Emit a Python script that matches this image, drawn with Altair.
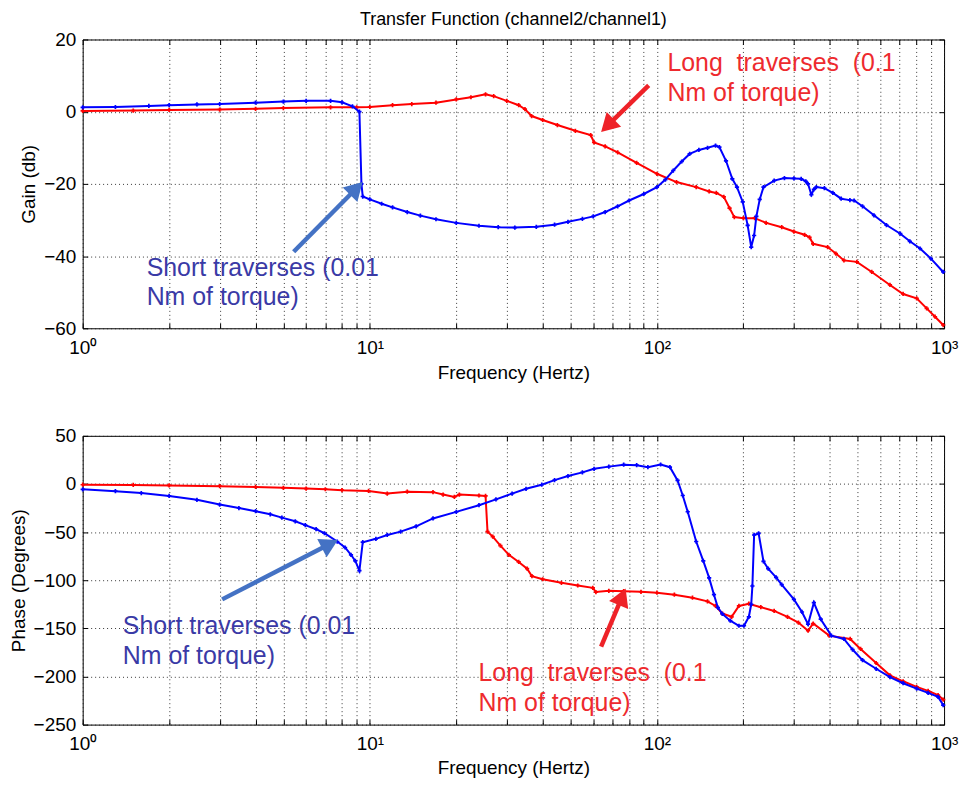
import math
import altair as alt
import pandas as pd

FONT = "Liberation Sans"

# ---------------- data ----------------
# Gain (dB), short traverses (0.01 Nm) - blue
gain_short_f = [1.0, 1.3, 1.7, 2.0, 2.5, 3.0, 4.0, 5.0, 6.0, 7.3, 8.0, 8.7, 9.2, 9.35, 9.45,
                10, 11, 12, 13.5, 15, 17, 20, 24, 28, 32, 38, 44, 49, 55, 60, 66, 73, 80, 90,
                100, 107, 114, 122, 130, 140, 150, 160, 165, 174, 183, 190, 199, 207, 213, 218,
                222, 228, 235, 256, 278, 300, 318, 330, 336, 345, 352, 359, 383, 410, 438, 470,
                486, 520, 570, 630, 704, 760, 825, 900, 993]
gain_short_db = [1.2, 1.3, 1.6, 1.8, 2.0, 2.1, 2.5, 2.8, 3.0, 3.0, 2.6, 1.5, 0.0, -20.0, -23.5,
                 -24.3, -25.5, -26.5, -27.8, -28.8, -29.8, -30.8, -31.6, -32.0, -32.1, -31.9, -31.3,
                 -30.5, -29.7, -29.0, -27.8, -26.2, -24.6, -22.8, -20.9, -18.8, -16.3, -13.8, -11.7,
                 -10.6, -10.0, -9.4, -9.8, -13.6, -18.6, -20.9, -25.0, -31.5, -37.5, -34.3, -29.0,
                 -24.3, -20.9, -19.1, -18.4, -18.5, -18.6, -19.3, -20.0, -23.0, -21.5, -20.9, -21.2,
                 -22.5, -24.1, -24.5, -24.6, -26.2, -28.7, -31.4, -33.8, -35.9, -37.9, -40.7, -44.4]

# Gain (dB), long traverses (0.1 Nm) - red
gain_long_f = [1.0, 1.5, 2.0, 3.0, 4.0, 5.0, 7.3, 9.0, 10, 12, 14, 17, 20, 22.5, 25.3, 27, 30,
               33, 34.7, 36.6, 40, 45, 52, 58.8, 60.4, 66, 73, 85, 100, 117, 137, 152, 161, 171,
               179, 186, 200, 219, 240, 272, 300, 327, 340, 350, 393, 420, 448, 497, 560, 648,
               720, 803, 870, 930, 993]
gain_long_db = [0.2, 0.3, 0.5, 0.6, 0.8, 1.0, 1.2, 1.2, 1.3, 1.8, 2.1, 2.5, 3.4, 4.0, 4.8, 4.3,
                3.0, 1.8, 0.7, -1.2, -2.3, -3.7, -5.3, -6.5, -8.5, -9.6, -11.3, -14.2, -17.2,
                -19.5, -20.9, -22.1, -22.5, -23.6, -26.7, -29.2, -29.5, -29.5, -30.8, -32.0,
                -33.2, -34.1, -34.8, -36.6, -37.5, -39.3, -41.2, -41.6, -44.4, -48.0, -50.5,
                -51.7, -54.5, -56.8, -59.1]

# Phase (degrees), short traverses - blue
phase_short_f = [1.0, 1.3, 1.6, 2.0, 2.5, 3.0, 3.5, 4.0, 4.5, 4.94, 5.5, 5.96, 6.5, 6.95, 7.7,
                 8.2, 8.6, 8.9, 9.2, 9.45, 10.5, 11.5, 12.8, 14.5, 16.6, 20, 24, 27.5, 31.3, 35,
                 39.7, 44, 49, 55, 60.4, 68, 76.6, 85, 93, 103, 111, 118, 123, 128, 137, 145,
                 152, 158, 163, 169, 180, 193, 201, 209, 213, 215, 218, 226, 235, 244, 260, 272,
                 300, 320, 336, 352, 372, 405, 448, 480, 520, 580, 648, 720, 803, 880, 953, 993]
phase_short_deg = [-5.6, -7.5, -9.5, -12.4, -16.5, -21.4, -25.0, -28.3, -31.5, -35.0, -38.8,
                   -42.7, -47.0, -51.2, -59.8, -66.0, -73.6, -80.0, -90.0, -60.5, -57.0, -53.0,
                   -49.5, -44.0, -35.8, -29.0, -22.1, -16.0, -10.0, -5.0, -0.8, 4.0, 8.2, 12.0,
                   15.7, 18.0, 20.0, 19.5, 17.4, 20.2, 17.4, 3.7, -12.0, -28.9, -59.8, -80.0,
                   -97.6, -115.0, -128.5, -135.0, -142.0, -147.3, -147.3, -138.0, -125.0,
                   -106.0, -53.0, -51.4, -80.4, -88.0, -97.0, -104.5, -119.9, -133.0, -145.7,
                   -123.3, -140.5, -157.6, -161.0, -172.0, -183.0, -192.0, -200.6, -207.0,
                   -212.6, -217.0, -221.2, -229.7]

# Phase (degrees), long traverses - red
phase_long_f = [1.0, 1.5, 2.0, 3.0, 4.0, 5.0, 6.0, 7.0, 8.0, 9.9, 11.5, 13.5, 16.6, 18, 19.7,
                20.5, 24, 25.3, 25.7, 26.8, 28.5, 30.5, 33, 35.3, 36.7, 40, 46.5, 53, 59.8, 61.3,
                68, 76.6, 88, 100, 115, 133, 150, 160, 169, 182, 193, 209, 230, 256, 285, 311,
                336, 350, 398, 471, 512, 580, 648, 720, 803, 880, 953, 993]
phase_long_deg = [-0.8, -1.0, -1.5, -2.3, -3.1, -4.0, -4.8, -5.5, -6.5, -7.3, -10.0, -8.0,
                  -8.5, -11.0, -13.5, -11.0, -12.0, -12.4, -49.5, -54.7, -64.0, -73.6, -81.0,
                  -88.0, -95.8, -99.0, -102.7, -105.5, -107.9, -112.3, -111.0, -111.4, -112.0,
                  -113.0, -115.0, -118.2, -122.0, -126.7, -134.6, -138.0, -126.7, -124.4,
                  -128.0, -131.9, -138.0, -144.0, -152.5, -145.0, -157.6, -161.0, -171.4,
                  -186.0, -198.8, -205.0, -210.8, -215.0, -219.4, -224.0]

x_tick_values = [1, 2, 3, 4, 5, 6, 7, 8, 9, 10, 20, 30, 40, 50, 60, 70, 80, 90,
                 100, 200, 300, 400, 500, 600, 700, 800, 900, 1000]
gain_ticks = [-60, -40, -20, 0, 20]
phase_ticks = [-250, -200, -150, -100, -50, 0, 50]
gain_domain = [-60, 20]
phase_domain = [-250, 50]
x_domain = [1, 1000]

title_text = "Transfer Function (channel2/channel1)"
x_title = "Frequency (Hertz)"
gain_title = "Gain (db)"
phase_title = "Phase (Degrees)"
short_label = ["Short traverses (0.01", "Nm of torque)"]
long_label = ["Long\u00a0 traverses\u00a0 (0.1", "Nm of torque)"]

# annotation anchors (frequency, value)
gain_short_text_at = (1.67, -45.4)
gain_long_text_at = (108.8, 11.3)
gain_short_arrow = ((5.43, -38.8), (9.44, -19.5))
gain_long_arrow = ((93.6, 7.3), (63.9, -5.6))
phase_short_text_at = (1.38, -156.0)
phase_long_text_at = (23.9, -204.7)
phase_short_arrow = ((3.06, -119.9), (7.74, -58.1))
phase_long_arrow = ((63.9, -168.9), (77.8, -108.6))

BLUE = "#0000ff"
RED = "#ff0000"
BLUE_TXT = "#3a3aa6"
RED_TXT = "#ee2a2e"
BLUE_ARW = "#4472c4"
RED_ARW = "#ee2228"

W, H = 865, 290
TICK = 5

LABEL_EXPR = ("datum.value == 1 ? '10\u2070' : datum.value == 10 ? '10\u00b9' : "
              "datum.value == 100 ? '10\u00b2' : datum.value == 1000 ? '10\u00b3' : ''")


def to_px(f, v, ydom):
    px = math.log10(f / x_domain[0]) / math.log10(x_domain[1] / x_domain[0]) * W
    py = (ydom[1] - v) / (ydom[1] - ydom[0]) * H
    return px, py


def from_px(px, py, ydom):
    f = x_domain[0] * 10 ** (px / W * math.log10(x_domain[1] / x_domain[0]))
    v = ydom[1] - py / H * (ydom[1] - ydom[0])
    return f, v


def inner_axis(orient, values):
    return alt.Axis(orient=orient, offset=-TICK, values=values, ticks=True,
                    tickSize=TICK, tickColor="black", tickWidth=1, labels=False,
                    grid=False, domain=False, title=None)


def panel(ydom, yticks, ytitle, short_f, short_v, long_f, long_v,
          short_txt_at, long_txt_at, short_arrow, long_arrow,
          title=None, lab_pad=10, tit_pad=8):
    xs = alt.Scale(type="log", domain=x_domain, nice=False)
    ys = alt.Scale(domain=ydom, nice=False, zero=False)
    xenc = alt.X("f:Q", scale=xs, title=x_title,
                 axis=alt.Axis(values=x_tick_values, labelExpr=LABEL_EXPR, grid=True,
                               labelOverlap=False, labelFlush=False, labelPadding=lab_pad,
                               titlePadding=tit_pad))
    yenc = alt.Y("v:Q", scale=ys, title=ytitle,
                 axis=alt.Axis(values=yticks, grid=True, labelPadding=7, titlePadding=5))
    xn = alt.X("f:Q", scale=xs, axis=None)
    yn = alt.Y("v:Q", scale=ys, axis=None)

    def series(fs, vs, color, with_axes):
        df = pd.DataFrame({"f": fs, "v": vs})
        return alt.Chart(df).mark_line(
            color=color, strokeWidth=2,
            point=alt.OverlayMarkDef(shape="cross", size=18, color=color, filled=True)
        ).encode(x=xenc if with_axes else xn, y=yenc if with_axes else yn)

    def label(at, lines, color):
        df = pd.DataFrame({"f": [at[0]], "v": [at[1]]})
        return alt.Chart(df).mark_text(
            align="left", baseline="alphabetic", font=FONT, fontSize=25,
            lineHeight=30, color=color
        ).encode(x=xn, y=yn, text=alt.value(lines))

    def arrow(ends, color):
        tail, head = ends
        x0, y0 = to_px(tail[0], tail[1], ydom)
        x1, y1 = to_px(head[0], head[1], ydom)
        dx, dy = x1 - x0, y1 - y0
        L = math.hypot(dx, dy)
        ux, uy = dx / L, dy / L
        shaft_end = from_px(x1 - 13 * ux, y1 - 13 * uy, ydom)
        head_c = from_px(x1 - 9 * ux, y1 - 9 * uy, ydom)
        ang = math.degrees(math.atan2(dx, -dy)) % 360
        sdf = pd.DataFrame({"f": [tail[0], shaft_end[0]], "v": [tail[1], shaft_end[1]]})
        hdf = pd.DataFrame({"f": [head_c[0]], "v": [head_c[1]]})
        shaft = alt.Chart(sdf).mark_line(color=color, strokeWidth=4.5).encode(x=xn, y=yn)
        hd = alt.Chart(hdf).mark_point(shape="triangle-up", filled=True, size=430,
                                       angle=ang, color=color, opacity=1,
                                       strokeWidth=0).encode(x=xn, y=yn)
        return [shaft, hd]

    # invisible layers carrying the inner tick marks on the four sides of the box
    tick_df = pd.DataFrame({"f": [x_domain[0]], "v": [ydom[0]]})
    ticks_a = alt.Chart(tick_df).mark_point(opacity=0).encode(
        x=alt.X("f:Q", scale=xs, axis=inner_axis("top", x_tick_values)),
        y=alt.Y("v:Q", scale=ys, axis=inner_axis("right", yticks)))
    ticks_b = alt.Chart(tick_df).mark_point(opacity=0).encode(
        x=alt.X("f:Q", scale=xs, axis=inner_axis("bottom", x_tick_values)),
        y=alt.Y("v:Q", scale=ys, axis=inner_axis("left", yticks)))

    layers = ([series(long_f, long_v, RED, True), series(short_f, short_v, BLUE, False)]
              + arrow(short_arrow, BLUE_ARW) + arrow(long_arrow, RED_ARW)
              + [label(short_txt_at, short_label, BLUE_TXT),
                 label(long_txt_at, long_label, RED_TXT), ticks_a, ticks_b])
    ch = alt.layer(*layers).resolve_axis(x="independent", y="independent").properties(
        width=W, height=H)
    if title:
        ch = ch.properties(title=alt.TitleParams(title_text, fontSize=18, font=FONT,
                                                 fontWeight="normal", color="black",
                                                 anchor="middle", offset=2))
    return ch


top = panel(gain_domain, gain_ticks, gain_title, gain_short_f, gain_short_db,
            gain_long_f, gain_long_db, gain_short_text_at, gain_long_text_at,
            gain_short_arrow, gain_long_arrow, title=True, lab_pad=10, tit_pad=6)
bottom = panel(phase_domain, phase_ticks, phase_title, phase_short_f, phase_short_deg,
               phase_long_f, phase_long_deg, phase_short_text_at, phase_long_text_at,
               phase_short_arrow, phase_long_arrow, lab_pad=10, tit_pad=5)

chart = alt.vconcat(top, bottom, spacing=43).properties(
    padding={"left": 0, "top": 0, "right": 0, "bottom": 0}
).configure_view(
    stroke="black", strokeWidth=1
).configure_axis(
    domain=False, ticks=False, labelFont=FONT, labelFontSize=19, titleFont=FONT,
    titleFontSize=19, titleFontWeight="normal", labelColor="black", titleColor="black",
    gridColor="#222222", gridDash=[1, 3], gridOpacity=0.9, gridWidth=1
)

chart.save("out.html", embed_options={"renderer": "svg", "actions": False})
